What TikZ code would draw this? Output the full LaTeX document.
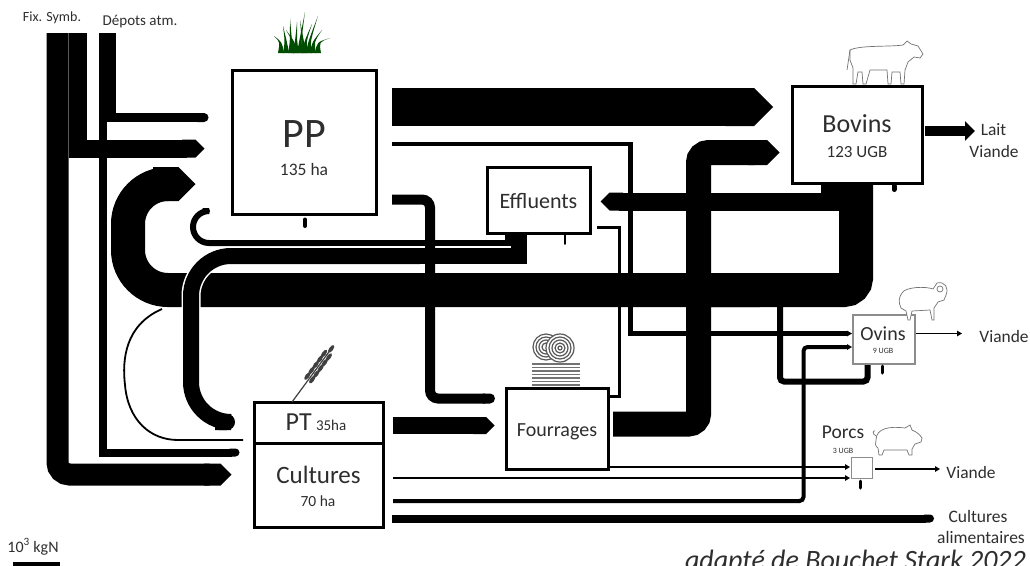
\documentclass[tikz,border=0pt]{standalone}
\usepackage{fontspec}
\setmainfont{Carlito}
\usetikzlibrary{arrows.meta}
\newcommand\setfs[1]{\fontsize{#1}{#1}\selectfont}
\tikzset{
  box/.style={draw=black, line width=3, fill=white, inner sep=0, outer sep=0},
  smallbox/.style={draw=black!45, line width=1.2, fill=white, inner sep=0, outer sep=0},
  lbl/.style={inner sep=0, text=black!82, anchor=base},
  tricap/.style={draw=black, line width=#1, -{Triangle Cap}},
  rndcap/.style={draw=black, line width=#1, -{Round Cap}},
  flat/.style={draw=black, line width=#1},
  thinarr/.style={draw=black, line width=#1, -{Triangle[length=5,width=5.5]}},
  icon/.style={draw=black!55, line width=0.7, fill=white},
  tick/.style={draw=black, line width=#1, line cap=round},
}
\begin{document}
\begin{tikzpicture}[x=1pt,y=-1pt]
\useasboundingbox (0,0) rectangle (1030,565);
\fill[white] (0,0) rectangle (1030,565);

% ---------- big manure band Bovins -> C -> PP
\draw[flat=34, rounded corners=12] (856,183) -- (856,290) -- (700,290);
\draw[tricap=34, rounded corners=40] (760,290) -- (128,290) -- (128,184) -- (195.5,184);
% Bovins -> Effluents
\draw[tricap=18] (830,183) -- (830,201.5) -- (600.5,201.5);

% ---------- Fix. Symb.
\draw[tricap=22, rounded corners=12] (57.5,33) -- (57.5,474.5) -- (231.5,474.5);
\draw[tricap=18] (77.5,33) -- (77.5,148.5) -- (204.5,148.5);
% ---------- Depots atm.
\draw[rndcap=8] (103,33) -- (103,452.5) -- (239.5,452.5);
\draw[rndcap=9] (111.5,33) -- (111.5,117.5) -- (208.5,117.5);

% ---------- Effluents -> PP (hook)
\draw[flat=6] (508,233) -- (508,243) -- (300,243);
\draw[rndcap=6, rounded corners=16] (320,243) -- (193,243) -- (193,211) -- (210,211);
% ---------- Effluents -> PT
\draw[flat=16] (519,233) -- (519,256) -- (400,256);
\draw[draw=white, line width=19, rounded corners=40] (330,256) -- (191,256) -- (191,360);
\draw[rndcap=16, rounded corners=40] (420,256) -- (191,256) -- (191,422) -- (235,422);
% ---------- big band -> PT (thin)
\draw[flat=1.8] (162,309) .. controls (125,325) and (122,360) .. (125,385) .. controls (128,420) and (150,440) .. (178,440) -- (243,440);

% ---------- PP outputs
\draw[tricap=38] (392,107) -- (773,107);
\draw[thinarr=4.5] (392,144) -- (630.5,144) -- (630.5,333.5) -- (852,333.5);
\draw[rndcap=10, rounded corners=8] (392,199.5) -- (430,199.5) -- (430,398.5) -- (495,398.5);

% ---------- Fourrages -> Bovins
\draw[tricap=25, rounded corners=10] (613,424) -- (698.5,424) -- (698.5,152.5) -- (779.5,152.5);
% ---------- Effluents -> Fourrages
\draw[flat=3.5] (597,227.5) -- (619.5,227.5) -- (619.5,396.5) -- (610,396.5);

% ---------- PT / Cultures outputs
\draw[tricap=17] (393,425.5) -- (494.5,425.5);
\draw[thinarr=1.5] (608,467) -- (850,467);
\draw[thinarr=1.5] (393,478) -- (850,478);
\draw[thinarr=4, rounded corners=4] (393,501) -- (803.5,501) -- (803.5,347) -- (852,347);
\draw[rndcap=8] (392,518.5) -- (934,518.5);
% ---------- big band -> Ovins
\draw[flat=6, rounded corners=4] (780,305) -- (780,381.5) -- (867.5,381.5) -- (867.5,364);

% ---------- outputs of animals
\draw[draw=black, line width=10, -{Triangle[length=10,width=19]}] (925,131) -- (975,131);
\draw[thinarr=1.5] (916,333.5) -- (962,333.5);
\draw[thinarr=1.5] (875,469) -- (940,469);

% ---------- boxes
\node[box, minimum width=144, minimum height=144] (PP) at (304,142) {};
\node[box, minimum width=130, minimum height=97] (Bovins) at (857,134.5) {};
\node[box, minimum width=103, minimum height=66] (Effluents) at (538.5,200) {};
\node[box, minimum width=102, minimum height=81] (Fourrages) at (557,428.5) {};
\node[box, minimum width=129, minimum height=41] (PT) at (318.5,422.5) {};
\node[box, minimum width=129, minimum height=84] (Cultures) at (318.5,485) {};
\node[smallbox, minimum width=62, minimum height=49] (Ovins) at (884,339.5) {};
\node[smallbox, line width=1, minimum width=21, minimum height=21] (Porcs) at (861.5,467.5) {};

% ---------- ticks (pertes)
\draw[tick=4] (305,219.5) -- (305,226);
\draw[tick=5] (894,186) -- (894,189.5);
\draw[tick=1.5] (565,235) -- (565,244);
\draw[tick=3] (882,366) -- (882,373);
\draw[tick=3] (860,481) -- (860,488);

% ---------- labels
\node[lbl, font=\setfs{42}] (tPP) at (304,147) {PP};
\node[lbl, font=\setfs{17.5}] (tPPha) at (304,175) {135 ha};
\node[lbl, font=\setfs{26}] (tBov) at (857,132) {Bovins};
\node[lbl, font=\setfs{17}] (tBovU) at (857,157) {123 UGB};
\node[lbl, font=\setfs{22}] (tEff) at (538.5,208) {Effluents};
\node[lbl, font=\setfs{20}] (tFour) at (557,436) {Fourrages};
\node[lbl, font=\setfs{20}] (tOv) at (883,340) {Ovins};
\node[lbl, font=\setfs{8}] (tOvU) at (883,353) {9 UGB};
\node[lbl] (tPT) at (316,430) {\setfs{26}PT\,\setfs{15}35ha};
\node[lbl, font=\setfs{25}] (tCult) at (318.5,483) {Cultures};
\node[lbl, font=\setfs{15.5}] (tCultha) at (318,506) {70 ha};
\node[lbl, font=\setfs{19.5}] (tPorcs) at (843,438) {Porcs};
\node[lbl, font=\setfs{8}] (tPorcsU) at (843,453) {3 UGB};
\node[lbl, font=\setfs{17.4}] (tV1) at (971,478) {Viande};
\node[lbl, font=\setfs{17.4}] (tV2) at (1004,342) {Viande};
\node[lbl, font=\setfs{17.4}] (tLait) at (993.5,135) {Lait};
\node[lbl, font=\setfs{17.4}] (tV3) at (994,157) {Viande};
\node[lbl, font=\setfs{17.5}] (tCa1) at (978,522) {Cultures};
\node[lbl, font=\setfs{17.5}] (tCa2) at (981,543) {alimentaires};
\node[lbl, font=\setfs{14}] (tFix) at (52,21) {Fix. Symb.};
\node[lbl, font=\setfs{15}] (tDep) at (140,25) {Dépots atm.};
\node[lbl, font=\setfs{16}] (tScale) at (33,552) {10\textsuperscript{3} kgN};
\fill[black] (13,562) rectangle (60,570);
\node[lbl, anchor=base east, font=\itshape\setfs{28}] (tCite) at (1026,569) {adapté de Bouchet Stark 2022};

% ---------- icons
% grass
\foreach \bx/\tx/\ty in {281/274/36, 286/283/26, 291/290/18, 296/297/22, 300/305/12, 305/312/24, 309/318/16, 313/322/30, 318/330/38, 294/286/30, 303/300/20}{
  \fill[green!30!black] (\bx-3,53) .. controls (\bx-1,42) .. (\tx,\ty) .. controls (\bx+1,42) .. (\bx+3,53) -- cycle;
}
% cow
\draw[icon] (850,50) .. controls (860,45) and (890,47) .. (903,45) -- (907,41) -- (911,44) -- (918,46) -- (923,54) -- (920,58) -- (914,57) -- (908,62) -- (905,70) -- (904,84) -- (901,84) -- (900,72) -- (892,72) -- (891,84) -- (888,84) -- (887,70) -- (870,70) -- (866,84) -- (863,84) -- (862,72) -- (858,72) -- (856,84) -- (853,84) -- (853,68) -- (850,60) -- cycle;
\draw[draw=black!55, line width=0.7] (850,50) -- (847,70);
% sheep
\draw[icon] (902,293) .. controls (905,287) and (925,286) .. (933,289) -- (937,283) .. controls (945,281) and (949,288) .. (946,295) -- (944,300) -- (938,302) -- (934,308) -- (934,320) -- (932,320) -- (930,310) -- (912,311) -- (910,320) -- (908,320) -- (906,311) -- (901,308) .. controls (898,302) and (899,297) .. (902,293) -- cycle;
\draw[draw=black!55, line width=0.7] (940,289) circle[radius=3];
% pig
\draw[icon] (876,440) .. controls (876,428) and (890,426) .. (905,428) -- (910,425) -- (912,430) .. controls (917,432) and (920,435) .. (922,438) -- (921,442) -- (915,444) -- (912,449) -- (912,455) -- (909,455) -- (907,450) -- (884,450) -- (882,455) -- (879,455) -- (878,448) .. controls (875,446) and (875,443) .. (876,440) -- cycle;
\draw[draw=black!55, line width=0.7] (876,436) .. controls (872,434) and (873,430) .. (875,431);
% wheat
\begin{scope}[shift={(292,402)}, rotate=53.6]
  \draw[black!75, line width=1.2] (0,0) -- (66,0);
  \foreach \s in {30,37,44,51,58}{
    \fill[black!75] (\s,3) ellipse[x radius=4.5, y radius=2];
    \fill[black!75] (\s,-3) ellipse[x radius=4.5, y radius=2];
  }
  \fill[black!75] (66,0) ellipse[x radius=4.5, y radius=2];
\end{scope}
% hay
\foreach \y in {364,367.5,...,385}{ \draw[black!55, line width=1.3] (532,\y) -- (580,\y); }
\fill[white] (546,347) circle[radius=13];
\foreach \r in {13,10,7,4}{ \draw[black!65, line width=1.2] (546,347) circle[radius=\r]; }
\fill[white] (560,348) circle[radius=14];
\foreach \r in {14,11,8,5,2}{ \draw[black!65, line width=1.2] (560,348) circle[radius=\r]; }
\end{tikzpicture}
\end{document}
